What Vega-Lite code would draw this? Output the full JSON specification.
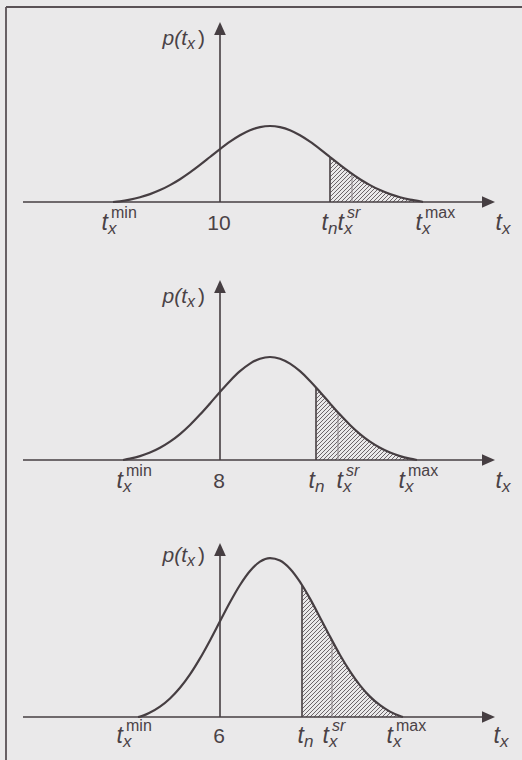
{
"$schema": "https://vega.github.io/schema/vega-lite/v6.json",
"background": "#eae9ea",
"padding": 0,
"spacing": 0,
"bounds": "flush",
"config": {"view": {"stroke": null}, "axis": {"disable": true}},
"datasets": {
"curve1": [{"t":-10.7,"f":0},{"t":-10,"f":0.07},{"t":-9,"f":0.24},{"t":-8,"f":0.48},{"t":-7,"f":0.79},{"t":-6,"f":1.19},{"t":-5,"f":1.69},{"t":-4,"f":2.28},{"t":-3,"f":2.96},{"t":-2,"f":3.71},{"t":-1,"f":4.5},{"t":0,"f":5.29},{"t":1,"f":6.03},{"t":2,"f":6.67},{"t":3,"f":7.18},{"t":4,"f":7.49},{"t":5,"f":7.6},{"t":6,"f":7.49},{"t":7,"f":7.18},{"t":8,"f":6.67},{"t":9,"f":6.03},{"t":10,"f":5.29},{"t":11,"f":4.5},{"t":12,"f":3.71},{"t":13,"f":2.96},{"t":14,"f":2.28},{"t":15,"f":1.69},{"t":16,"f":1.19},{"t":17,"f":0.79},{"t":18,"f":0.48},{"t":19,"f":0.24},{"t":20,"f":0.07},{"t":20.3,"f":0}],
"curve2": [{"t":-9.7,"f":0},{"t":-9,"f":0.14},{"t":-8,"f":0.39},{"t":-7,"f":0.74},{"t":-6,"f":1.22},{"t":-5,"f":1.83},{"t":-4,"f":2.59},{"t":-3,"f":3.5},{"t":-2,"f":4.54},{"t":-1,"f":5.66},{"t":0,"f":6.81},{"t":1,"f":7.91},{"t":2,"f":8.88},{"t":3,"f":9.64},{"t":4,"f":10.13},{"t":5,"f":10.3},{"t":6,"f":10.13},{"t":7,"f":9.64},{"t":8,"f":8.88},{"t":9,"f":7.91},{"t":9.6,"f":7.26},{"t":10,"f":6.81},{"t":11,"f":5.66},{"t":12,"f":4.54},{"t":13,"f":3.5},{"t":14,"f":2.59},{"t":15,"f":1.83},{"t":16,"f":1.22},{"t":17,"f":0.74},{"t":18,"f":0.39},{"t":19,"f":0.14},{"t":19.7,"f":0}],
"curve3": [{"t":-8.2,"f":0},{"t":-8,"f":0.03},{"t":-7,"f":0.44},{"t":-6,"f":1.03},{"t":-5,"f":1.85},{"t":-4,"f":2.92},{"t":-3,"f":4.26},{"t":-2,"f":5.86},{"t":-1,"f":7.66},{"t":0,"f":9.57},{"t":1,"f":11.47},{"t":2,"f":13.2},{"t":3,"f":14.6},{"t":4,"f":15.53},{"t":5,"f":15.89},{"t":6,"f":15.65},{"t":7,"f":14.83},{"t":8,"f":13.51},{"t":8.2,"f":13.2},{"t":9,"f":11.84},{"t":10,"f":9.96},{"t":11,"f":8.04},{"t":12,"f":6.2},{"t":13,"f":4.56},{"t":14,"f":3.16},{"t":15,"f":2.04},{"t":16,"f":1.18},{"t":17,"f":0.54},{"t":18,"f":0.1},{"t":18.3,"f":0}],
"hatch1": [{"a":6.5,"b":11.0},{"a":6.9,"b":11.4},{"a":7.3,"b":11.8},{"a":7.7,"b":12.2},{"a":8.1,"b":12.6},{"a":8.5,"b":13.0},{"a":8.9,"b":13.4},{"a":9.3,"b":13.8},{"a":9.7,"b":14.2},{"a":10.1,"b":14.6},{"a":10.5,"b":15.0},{"a":10.9,"b":15.4},{"a":11.3,"b":15.8},{"a":11.7,"b":16.2},{"a":12.1,"b":16.6},{"a":12.5,"b":17.0},{"a":12.9,"b":17.4},{"a":13.3,"b":17.8},{"a":13.7,"b":18.2},{"a":14.1,"b":18.6},{"a":14.5,"b":19.0},{"a":14.9,"b":19.4},{"a":15.3,"b":19.8},{"a":15.7,"b":20.2},{"a":16.1,"b":20.6},{"a":16.5,"b":21.0},{"a":16.9,"b":21.4},{"a":17.3,"b":21.8},{"a":17.7,"b":22.2},{"a":18.1,"b":22.6},{"a":18.5,"b":23.0},{"a":18.9,"b":23.4},{"a":19.3,"b":23.8},{"a":19.7,"b":24.2},{"a":20.1,"b":24.6}],
"hatch2": [{"a":2.3,"b":9.56},{"a":2.7,"b":9.96},{"a":3.1,"b":10.36},{"a":3.5,"b":10.76},{"a":3.9,"b":11.16},{"a":4.3,"b":11.56},{"a":4.7,"b":11.96},{"a":5.1,"b":12.36},{"a":5.5,"b":12.76},{"a":5.9,"b":13.16},{"a":6.3,"b":13.56},{"a":6.7,"b":13.96},{"a":7.1,"b":14.36},{"a":7.5,"b":14.76},{"a":7.9,"b":15.16},{"a":8.3,"b":15.56},{"a":8.7,"b":15.96},{"a":9.1,"b":16.36},{"a":9.5,"b":16.76},{"a":9.9,"b":17.16},{"a":10.3,"b":17.56},{"a":10.7,"b":17.96},{"a":11.1,"b":18.36},{"a":11.5,"b":18.76},{"a":11.9,"b":19.16},{"a":12.3,"b":19.56},{"a":12.7,"b":19.96},{"a":13.1,"b":20.36},{"a":13.5,"b":20.76},{"a":13.9,"b":21.16},{"a":14.3,"b":21.56},{"a":14.7,"b":21.96},{"a":15.1,"b":22.36},{"a":15.5,"b":22.76},{"a":15.9,"b":23.16},{"a":16.3,"b":23.56},{"a":16.7,"b":23.96},{"a":17.1,"b":24.36},{"a":17.5,"b":24.76},{"a":17.9,"b":25.16},{"a":18.3,"b":25.56},{"a":18.7,"b":25.96},{"a":19.1,"b":26.36},{"a":19.5,"b":26.76}],
"hatch3": [{"a":-5.0,"b":8.2},{"a":-4.6,"b":8.6},{"a":-4.2,"b":9.0},{"a":-3.8,"b":9.4},{"a":-3.4,"b":9.8},{"a":-3.0,"b":10.2},{"a":-2.6,"b":10.6},{"a":-2.2,"b":11.0},{"a":-1.8,"b":11.4},{"a":-1.4,"b":11.8},{"a":-1.0,"b":12.2},{"a":-0.6,"b":12.6},{"a":-0.2,"b":13.0},{"a":0.2,"b":13.4},{"a":0.6,"b":13.8},{"a":1.0,"b":14.2},{"a":1.4,"b":14.6},{"a":1.8,"b":15.0},{"a":2.2,"b":15.4},{"a":2.6,"b":15.8},{"a":3.0,"b":16.2},{"a":3.4,"b":16.6},{"a":3.8,"b":17.0},{"a":4.2,"b":17.4},{"a":4.6,"b":17.8},{"a":5.0,"b":18.2},{"a":5.4,"b":18.6},{"a":5.8,"b":19.0},{"a":6.2,"b":19.4},{"a":6.6,"b":19.8},{"a":7.0,"b":20.2},{"a":7.4,"b":20.6},{"a":7.8,"b":21.0},{"a":8.2,"b":21.4},{"a":8.6,"b":21.8},{"a":9.0,"b":22.2},{"a":9.4,"b":22.6},{"a":9.8,"b":23.0},{"a":10.2,"b":23.4},{"a":10.6,"b":23.8},{"a":11.0,"b":24.2},{"a":11.4,"b":24.6},{"a":11.8,"b":25.0},{"a":12.2,"b":25.4},{"a":12.6,"b":25.8},{"a":13.0,"b":26.2},{"a":13.4,"b":26.6},{"a":13.8,"b":27.0},{"a":14.2,"b":27.4},{"a":14.6,"b":27.8},{"a":15.0,"b":28.2},{"a":15.4,"b":28.6},{"a":15.8,"b":29.0},{"a":16.2,"b":29.4},{"a":16.6,"b":29.8},{"a":17.0,"b":30.2},{"a":17.4,"b":30.6},{"a":17.8,"b":31.0},{"a":18.2,"b":31.4}],
"labels1": [{"lx":-11.2,"main":"t","sub":"x","sup":"min"},{"lx":10.8,"main":"t","sub":"n","sup":""},{"lx":12.4,"main":"t","sub":"x","sup":"sr"},{"lx":20.2,"main":"t","sub":"x","sup":"max"},{"lx":28.2,"main":"t","sub":"x","sup":""}],
"labels2": [{"lx":-9.7,"main":"t","sub":"x","sup":"min"},{"lx":9.5,"main":"t","sub":"n","sup":""},{"lx":12.3,"main":"t","sub":"x","sup":"sr"},{"lx":18.5,"main":"t","sub":"x","sup":"max"},{"lx":28.2,"main":"t","sub":"x","sup":""}],
"labels3": [{"lx":-9.7,"main":"t","sub":"x","sup":"min"},{"lx":8.4,"main":"t","sub":"n","sup":""},{"lx":10.9,"main":"t","sub":"x","sup":"sr"},{"lx":17.3,"main":"t","sub":"x","sup":"max"},{"lx":28.0,"main":"t","sub":"x","sup":""}]
},
"vconcat": [
{
"width": 522, "height": 252,
"layer": [
{"data":{"name":"hatch1"},"mark":{"type":"rule","color":"#5e565a","strokeWidth":0.9,"clip":true},"encoding":{"x":{"field":"a","type":"quantitative","scale":{"domain":[-22,30.2],"nice":false,"zero":false},"axis":null},"x2":{"field":"b"},"y":{"datum":0,"type":"quantitative","scale":{"domain":[-5,20.2],"nice":false,"zero":false},"axis":null},"y2":{"datum":4.5}}},
{"data":{"values":[{}]},"mark":{"type":"rect","color":"#eae9ea","clip":true},"encoding":{"x":{"datum":6},"x2":{"datum":11.03},"y":{"datum":0},"y2":{"datum":4.8}}},
{"data":{"name":"curve1"},"transform":[{"filter":"datum.t >= 11"}],"mark":{"type":"area","color":"#eae9ea","interpolate":"monotone"},"encoding":{"x":{"field":"t","type":"quantitative"},"y":{"field":"f","type":"quantitative"},"y2":{"datum":4.8}}},
{"data":{"values":[{}]},"mark":{"type":"rect","color":"#eae9ea","clip":true},"encoding":{"x":{"datum":20.2},"x2":{"datum":25.5},"y":{"datum":0},"y2":{"datum":4.8}}},
{"data":{"values":[{}]},"mark":{"type":"rule","color":"#463e42","strokeWidth":1.6},"encoding":{"x":{"datum":-19.7},"x2":{"datum":26.6},"y":{"datum":0}}},
{"data":{"values":[{}]},"mark":{"type":"point","shape":"M0,0L-1,-0.45L-1,0.45Z","filled":true,"size":676,"color":"#463e42","opacity":1},"encoding":{"x":{"datum":27.5},"y":{"datum":0}}},
{"data":{"values":[{}]},"mark":{"type":"rule","color":"#463e42","strokeWidth":1.6},"encoding":{"x":{"datum":0},"y":{"datum":0},"y2":{"datum":17.2}}},
{"data":{"values":[{}]},"mark":{"type":"point","shape":"M0,0L-0.45,1L0.45,1Z","filled":true,"size":676,"color":"#463e42","opacity":1},"encoding":{"x":{"datum":0},"y":{"datum":18.0}}},
{"data":{"values":[{}]},"mark":{"type":"rule","color":"#463e42","strokeWidth":1.6},"encoding":{"x":{"datum":11},"y":{"datum":0},"y2":{"datum":4.5}}},
{"data":{"values":[{}]},"mark":{"type":"rule","color":"#8c8488","strokeWidth":1},"encoding":{"x":{"datum":13.2},"y":{"datum":0},"y2":{"datum":2.82}}},
{"data":{"name":"curve1"},"mark":{"type":"line","color":"#463e42","strokeWidth":2.2,"interpolate":"monotone"},"encoding":{"x":{"field":"t","type":"quantitative"},"y":{"field":"f","type":"quantitative"}}},
{"data":{"name":"labels1"},"mark":{"type":"text","align":"right","baseline":"alphabetic","font":"Liberation Sans","fontStyle":"italic","fontSize":23,"color":"#4a4246"},"encoding":{"x":{"field":"lx","type":"quantitative"},"y":{"datum":-2.8},"text":{"field":"main"}}},
{"data":{"name":"labels1"},"mark":{"type":"text","align":"left","baseline":"alphabetic","font":"Liberation Sans","fontStyle":"italic","fontSize":17,"dy":4,"color":"#4a4246"},"encoding":{"x":{"field":"lx","type":"quantitative"},"y":{"datum":-2.8},"text":{"field":"sub"}}},
{"data":{"name":"labels1"},"transform":[{"filter":"datum.sup != 'sr'"}],"mark":{"type":"text","align":"left","baseline":"alphabetic","font":"Liberation Sans","fontSize":16,"dx":3,"dy":-12,"color":"#4a4246"},"encoding":{"x":{"field":"lx","type":"quantitative"},"y":{"datum":-2.8},"text":{"field":"sup"}}},
{"data":{"name":"labels1"},"transform":[{"filter":"datum.sup == 'sr'"}],"mark":{"type":"text","align":"left","baseline":"alphabetic","font":"Liberation Sans","fontStyle":"italic","fontSize":16,"dx":3,"dy":-12,"color":"#4a4246"},"encoding":{"x":{"field":"lx","type":"quantitative"},"y":{"datum":-2.8},"text":{"field":"sup"}}},
{"data":{"values":[{}]},"mark":{"type":"text","align":"center","baseline":"alphabetic","font":"Liberation Sans","fontSize":21,"color":"#4a4246"},"encoding":{"x":{"datum":-0.1},"y":{"datum":-2.8},"text":{"value":"10"}}},
{"data":{"values":[{}]},"mark":{"type":"text","align":"right","baseline":"alphabetic","font":"Liberation Sans","fontStyle":"italic","fontSize":21,"color":"#4a4246"},"encoding":{"x":{"datum":-3.3},"y":{"datum":15.7},"text":{"value":"p(t"}}},
{"data":{"values":[{}]},"mark":{"type":"text","align":"left","baseline":"alphabetic","font":"Liberation Sans","fontStyle":"italic","fontSize":16,"dy":4,"color":"#4a4246"},"encoding":{"x":{"datum":-3.3},"y":{"datum":15.7},"text":{"value":"x"}}},
{"data":{"values":[{}]},"mark":{"type":"text","align":"left","baseline":"alphabetic","font":"Liberation Sans","fontSize":21,"dx":11,"color":"#4a4246"},"encoding":{"x":{"datum":-3.3},"y":{"datum":15.7},"text":{"value":")"}}},
{"data":{"values":[{}]},"mark":{"type":"rule","color":"#5a5256","strokeWidth":1.8},"encoding":{"x":{"datum":-21.4},"y":{"datum":19.5},"y2":{"datum":-5}}},
{"data":{"values":[{}]},"mark":{"type":"rule","color":"#5a5256","strokeWidth":1.8},"encoding":{"x":{"datum":-21.4},"x2":{"datum":30.2},"y":{"datum":19.5}}}
]
},
{
"width": 522, "height": 258,
"layer": [
{"data":{"name":"hatch2"},"mark":{"type":"rule","color":"#5e565a","strokeWidth":0.9,"clip":true},"encoding":{"x":{"field":"a","type":"quantitative","scale":{"domain":[-22,30.2],"nice":false,"zero":false},"axis":null},"x2":{"field":"b"},"y":{"datum":0,"type":"quantitative","scale":{"domain":[-5,20.8],"nice":false,"zero":false},"axis":null},"y2":{"datum":7.26}}},
{"data":{"values":[{}]},"mark":{"type":"rect","color":"#eae9ea","clip":true},"encoding":{"x":{"datum":2},"x2":{"datum":9.63},"y":{"datum":0},"y2":{"datum":7.5}}},
{"data":{"name":"curve2"},"transform":[{"filter":"datum.t >= 9.6"}],"mark":{"type":"area","color":"#eae9ea","interpolate":"monotone"},"encoding":{"x":{"field":"t","type":"quantitative"},"y":{"field":"f","type":"quantitative"},"y2":{"datum":7.5}}},
{"data":{"values":[{}]},"mark":{"type":"rect","color":"#eae9ea","clip":true},"encoding":{"x":{"datum":19.6},"x2":{"datum":27.2},"y":{"datum":0},"y2":{"datum":7.5}}},
{"data":{"values":[{}]},"mark":{"type":"rule","color":"#463e42","strokeWidth":1.6},"encoding":{"x":{"datum":-19.7},"x2":{"datum":26.6},"y":{"datum":0}}},
{"data":{"values":[{}]},"mark":{"type":"point","shape":"M0,0L-1,-0.45L-1,0.45Z","filled":true,"size":676,"color":"#463e42","opacity":1},"encoding":{"x":{"datum":27.5},"y":{"datum":0}}},
{"data":{"values":[{}]},"mark":{"type":"rule","color":"#463e42","strokeWidth":1.6},"encoding":{"x":{"datum":0},"y":{"datum":0},"y2":{"datum":17.2}}},
{"data":{"values":[{}]},"mark":{"type":"point","shape":"M0,0L-0.45,1L0.45,1Z","filled":true,"size":676,"color":"#463e42","opacity":1},"encoding":{"x":{"datum":0},"y":{"datum":18.0}}},
{"data":{"values":[{}]},"mark":{"type":"rule","color":"#463e42","strokeWidth":1.6},"encoding":{"x":{"datum":9.6},"y":{"datum":0},"y2":{"datum":7.26}}},
{"data":{"values":[{}]},"mark":{"type":"rule","color":"#8c8488","strokeWidth":1},"encoding":{"x":{"datum":11.8},"y":{"datum":0},"y2":{"datum":4.76}}},
{"data":{"name":"curve2"},"mark":{"type":"line","color":"#463e42","strokeWidth":2.2,"interpolate":"monotone"},"encoding":{"x":{"field":"t","type":"quantitative"},"y":{"field":"f","type":"quantitative"}}},
{"data":{"name":"labels2"},"mark":{"type":"text","align":"right","baseline":"alphabetic","font":"Liberation Sans","fontStyle":"italic","fontSize":23,"color":"#4a4246"},"encoding":{"x":{"field":"lx","type":"quantitative"},"y":{"datum":-2.8},"text":{"field":"main"}}},
{"data":{"name":"labels2"},"mark":{"type":"text","align":"left","baseline":"alphabetic","font":"Liberation Sans","fontStyle":"italic","fontSize":17,"dy":4,"color":"#4a4246"},"encoding":{"x":{"field":"lx","type":"quantitative"},"y":{"datum":-2.8},"text":{"field":"sub"}}},
{"data":{"name":"labels2"},"transform":[{"filter":"datum.sup != 'sr'"}],"mark":{"type":"text","align":"left","baseline":"alphabetic","font":"Liberation Sans","fontSize":16,"dx":3,"dy":-12,"color":"#4a4246"},"encoding":{"x":{"field":"lx","type":"quantitative"},"y":{"datum":-2.8},"text":{"field":"sup"}}},
{"data":{"name":"labels2"},"transform":[{"filter":"datum.sup == 'sr'"}],"mark":{"type":"text","align":"left","baseline":"alphabetic","font":"Liberation Sans","fontStyle":"italic","fontSize":16,"dx":3,"dy":-12,"color":"#4a4246"},"encoding":{"x":{"field":"lx","type":"quantitative"},"y":{"datum":-2.8},"text":{"field":"sup"}}},
{"data":{"values":[{}]},"mark":{"type":"text","align":"center","baseline":"alphabetic","font":"Liberation Sans","fontSize":21,"color":"#4a4246"},"encoding":{"x":{"datum":-0.1},"y":{"datum":-2.8},"text":{"value":"8"}}},
{"data":{"values":[{}]},"mark":{"type":"text","align":"right","baseline":"alphabetic","font":"Liberation Sans","fontStyle":"italic","fontSize":21,"color":"#4a4246"},"encoding":{"x":{"datum":-3.3},"y":{"datum":15.7},"text":{"value":"p(t"}}},
{"data":{"values":[{}]},"mark":{"type":"text","align":"left","baseline":"alphabetic","font":"Liberation Sans","fontStyle":"italic","fontSize":16,"dy":4,"color":"#4a4246"},"encoding":{"x":{"datum":-3.3},"y":{"datum":15.7},"text":{"value":"x"}}},
{"data":{"values":[{}]},"mark":{"type":"text","align":"left","baseline":"alphabetic","font":"Liberation Sans","fontSize":21,"dx":11,"color":"#4a4246"},"encoding":{"x":{"datum":-3.3},"y":{"datum":15.7},"text":{"value":")"}}},
{"data":{"values":[{}]},"mark":{"type":"rule","color":"#5a5256","strokeWidth":1.8},"encoding":{"x":{"datum":-21.4}}}
]
},
{
"width": 522, "height": 250,
"layer": [
{"data":{"name":"hatch3"},"mark":{"type":"rule","color":"#5e565a","strokeWidth":0.9,"clip":true},"encoding":{"x":{"field":"a","type":"quantitative","scale":{"domain":[-22,30.2],"nice":false,"zero":false},"axis":null},"x2":{"field":"b"},"y":{"datum":0,"type":"quantitative","scale":{"domain":[-4.3,20.7],"nice":false,"zero":false},"axis":null},"y2":{"datum":13.2}}},
{"data":{"values":[{}]},"mark":{"type":"rect","color":"#eae9ea","clip":true},"encoding":{"x":{"datum":-5.5},"x2":{"datum":8.23},"y":{"datum":0},"y2":{"datum":13.5}}},
{"data":{"name":"curve3"},"transform":[{"filter":"datum.t >= 8.2"}],"mark":{"type":"area","color":"#eae9ea","interpolate":"monotone"},"encoding":{"x":{"field":"t","type":"quantitative"},"y":{"field":"f","type":"quantitative"},"y2":{"datum":13.5}}},
{"data":{"values":[{}]},"mark":{"type":"rect","color":"#eae9ea","clip":true},"encoding":{"x":{"datum":18.2},"x2":{"datum":30.2},"y":{"datum":0},"y2":{"datum":13.5}}},
{"data":{"values":[{}]},"mark":{"type":"rule","color":"#463e42","strokeWidth":1.6},"encoding":{"x":{"datum":-19.7},"x2":{"datum":26.6},"y":{"datum":0}}},
{"data":{"values":[{}]},"mark":{"type":"point","shape":"M0,0L-1,-0.45L-1,0.45Z","filled":true,"size":676,"color":"#463e42","opacity":1},"encoding":{"x":{"datum":27.5},"y":{"datum":0}}},
{"data":{"values":[{}]},"mark":{"type":"rule","color":"#463e42","strokeWidth":1.6},"encoding":{"x":{"datum":0},"y":{"datum":0},"y2":{"datum":16.6}}},
{"data":{"values":[{}]},"mark":{"type":"point","shape":"M0,0L-0.45,1L0.45,1Z","filled":true,"size":676,"color":"#463e42","opacity":1},"encoding":{"x":{"datum":0},"y":{"datum":17.4}}},
{"data":{"values":[{}]},"mark":{"type":"rule","color":"#463e42","strokeWidth":1.6},"encoding":{"x":{"datum":8.2},"y":{"datum":0},"y2":{"datum":13.2}}},
{"data":{"values":[{}]},"mark":{"type":"rule","color":"#8c8488","strokeWidth":1},"encoding":{"x":{"datum":11.2},"y":{"datum":0},"y2":{"datum":7.67}}},
{"data":{"name":"curve3"},"mark":{"type":"line","color":"#463e42","strokeWidth":2.2,"interpolate":"monotone"},"encoding":{"x":{"field":"t","type":"quantitative"},"y":{"field":"f","type":"quantitative"}}},
{"data":{"name":"labels3"},"mark":{"type":"text","align":"right","baseline":"alphabetic","font":"Liberation Sans","fontStyle":"italic","fontSize":23,"color":"#4a4246"},"encoding":{"x":{"field":"lx","type":"quantitative"},"y":{"datum":-2.6},"text":{"field":"main"}}},
{"data":{"name":"labels3"},"mark":{"type":"text","align":"left","baseline":"alphabetic","font":"Liberation Sans","fontStyle":"italic","fontSize":17,"dy":4,"color":"#4a4246"},"encoding":{"x":{"field":"lx","type":"quantitative"},"y":{"datum":-2.6},"text":{"field":"sub"}}},
{"data":{"name":"labels3"},"transform":[{"filter":"datum.sup != 'sr'"}],"mark":{"type":"text","align":"left","baseline":"alphabetic","font":"Liberation Sans","fontSize":16,"dx":3,"dy":-12,"color":"#4a4246"},"encoding":{"x":{"field":"lx","type":"quantitative"},"y":{"datum":-2.6},"text":{"field":"sup"}}},
{"data":{"name":"labels3"},"transform":[{"filter":"datum.sup == 'sr'"}],"mark":{"type":"text","align":"left","baseline":"alphabetic","font":"Liberation Sans","fontStyle":"italic","fontSize":16,"dx":3,"dy":-12,"color":"#4a4246"},"encoding":{"x":{"field":"lx","type":"quantitative"},"y":{"datum":-2.6},"text":{"field":"sup"}}},
{"data":{"values":[{}]},"mark":{"type":"text","align":"center","baseline":"alphabetic","font":"Liberation Sans","fontSize":21,"color":"#4a4246"},"encoding":{"x":{"datum":-0.1},"y":{"datum":-2.6},"text":{"value":"6"}}},
{"data":{"values":[{}]},"mark":{"type":"text","align":"right","baseline":"alphabetic","font":"Liberation Sans","fontStyle":"italic","fontSize":21,"color":"#4a4246"},"encoding":{"x":{"datum":-3.3},"y":{"datum":15.5},"text":{"value":"p(t"}}},
{"data":{"values":[{}]},"mark":{"type":"text","align":"left","baseline":"alphabetic","font":"Liberation Sans","fontStyle":"italic","fontSize":16,"dy":4,"color":"#4a4246"},"encoding":{"x":{"datum":-3.3},"y":{"datum":15.5},"text":{"value":"x"}}},
{"data":{"values":[{}]},"mark":{"type":"text","align":"left","baseline":"alphabetic","font":"Liberation Sans","fontSize":21,"dx":11,"color":"#4a4246"},"encoding":{"x":{"datum":-3.3},"y":{"datum":15.5},"text":{"value":")"}}},
{"data":{"values":[{}]},"mark":{"type":"rule","color":"#5a5256","strokeWidth":1.8},"encoding":{"x":{"datum":-21.4}}}
]
}
]
}
